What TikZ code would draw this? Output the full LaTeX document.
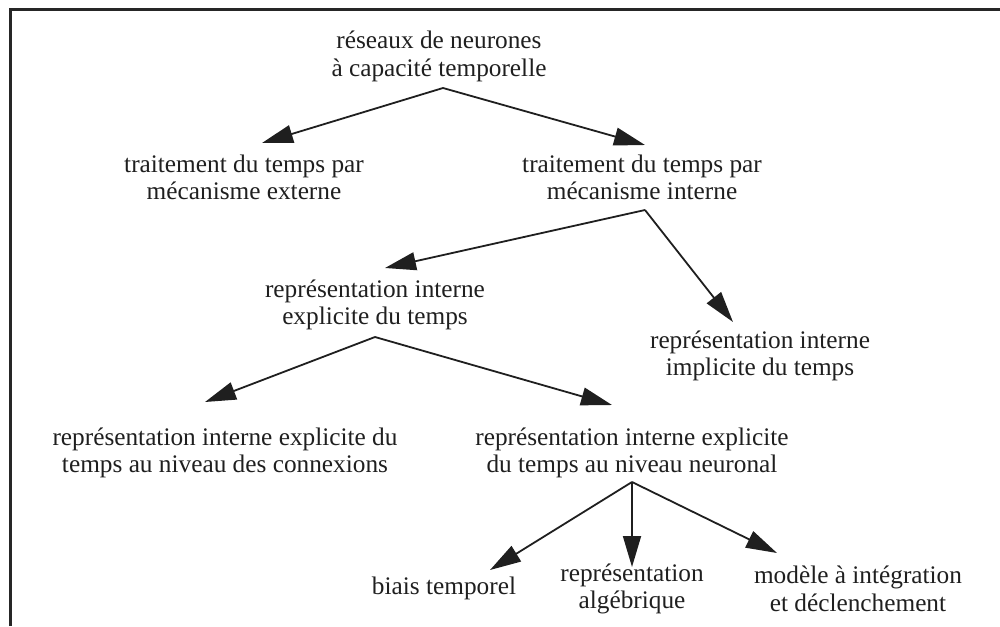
\documentclass[tikz,border=0pt]{standalone}
\usepackage{fontspec}
\setmainfont{Liberation Serif}
\usetikzlibrary{arrows.meta,calc}
\begin{document}
\begin{tikzpicture}[x=1pt,y=-1pt,
  lbl/.style={align=center,inner sep=0pt,font=\fontsize{25.3}{27.5}\selectfont,text=black!88},
  arr/.style={-{Triangle[length=31pt,width=18pt]},line width=1.8pt,draw=black!88}]
\useasboundingbox (0,0) rectangle (1000,626);
\draw[line width=3pt,draw=black!85] (10,626) -- (10,9.5) -- (1000,9.5);
\node[lbl] (root) at (439,56.5) {réseaux de neurones\\à capacité temporelle};
\node[lbl] (ext) at (244,177.5) {traitement du temps par\\mécanisme externe};
\node[lbl] (int) at (642,177.5) {traitement du temps par\\mécanisme interne};
\node[lbl] (expl) at (375,305) {représentation interne\\explicite du temps};
\node[lbl] (impl) at (760,356) {représentation interne\\implicite du temps};
\node[lbl] (conn) at (225,453) {représentation interne explicite du\\temps au niveau des connexions};
\node[lbl] (neur) at (632,453) {représentation interne explicite\\du temps au niveau neuronal};
\node[lbl] (biais) at (444,588) {biais temporel};
\node[lbl] (alg) at (632,589) {représentation\\algébrique};
\node[lbl] (mod) at (858,589) {modèle à intégration\\et déclenchement};
\draw[arr] ($(root.center)+(4,31.5)$) -- ($(ext.center)+(18,-34.5)$);
\draw[arr] ($(root.center)+(4,31.5)$) -- ($(int.center)+(3,-32.5)$);
\draw[arr] ($(int.center)+(3,32.5)$) -- ($(expl.center)+(10,-37)$);
\draw[arr] ($(int.center)+(3,32.5)$) -- ($(impl.center)+(-27,-34)$);
\draw[arr] ($(expl.center)+(0,32)$) -- ($(conn.center)+(-20,-51)$);
\draw[arr] ($(expl.center)+(0,32)$) -- ($(neur.center)+(-20,-48)$);
\draw[arr] ($(neur.center)+(0,29)$) -- ($(biais.center)+(46,-18)$);
\draw[arr] ($(neur.center)+(0,29)$) -- ($(alg.center)+(0,-22)$);
\draw[arr] ($(neur.center)+(0,29)$) -- ($(mod.center)+(-81,-36)$);
\end{tikzpicture}
\end{document}
